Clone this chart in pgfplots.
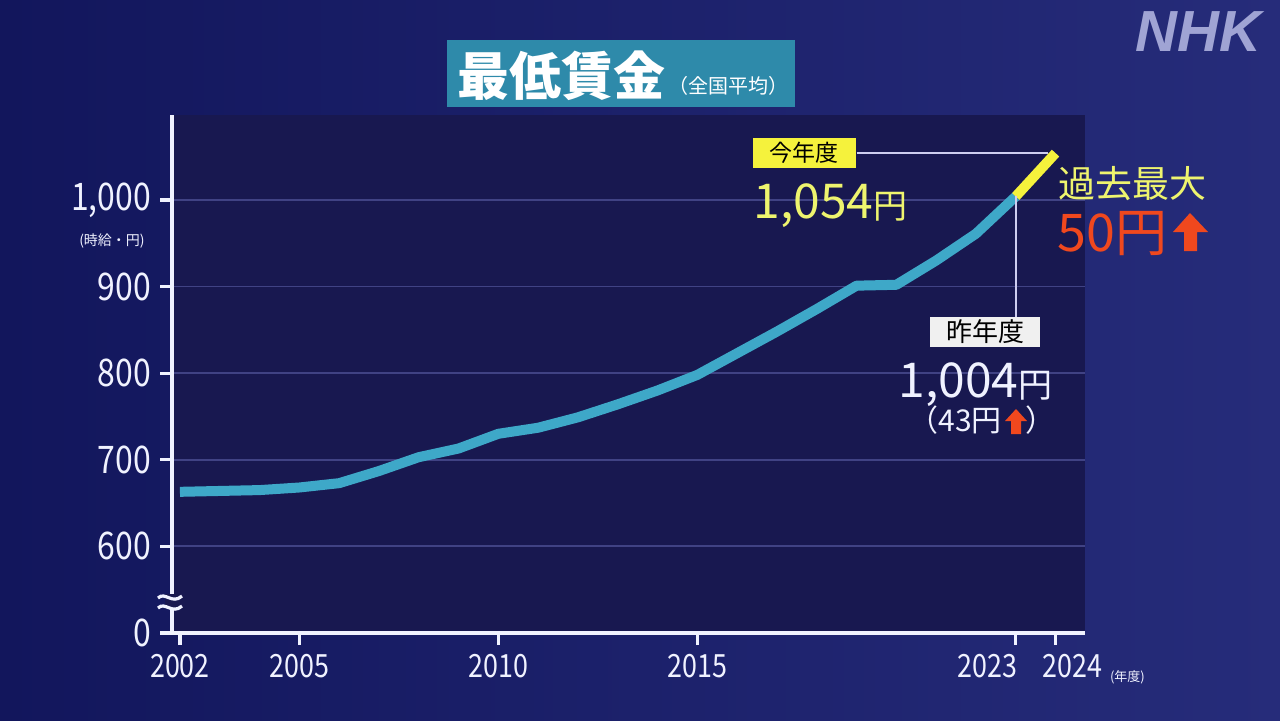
\documentclass[border=0pt]{standalone}
\usepackage{fontspec}
\setmainfont{Noto Sans CJK JP}
\newfontfamily\numfont[FakeStretch=0.84]{Noto Sans CJK JP}
\newfontfamily\nhkfont{Liberation Sans}
\usepackage{pgfplots}
\pgfplotsset{compat=1.18}
\definecolor{bgL}{RGB}{18,22,92}
\definecolor{bgR}{RGB}{38,44,122}
\definecolor{panel}{RGB}{24,24,80}
\definecolor{gridc}{RGB}{64,66,132}
\definecolor{linec}{RGB}{62,168,200}
\definecolor{yel}{RGB}{245,242,60}
\definecolor{yeltext}{RGB}{238,244,110}
\definecolor{titlebox}{RGB}{46,138,170}
\definecolor{redc}{RGB}{240,72,30}
\definecolor{lead}{RGB}{205,205,240}
\definecolor{nhk}{RGB}{160,164,212}
\definecolor{txt}{RGB}{240,242,255}
\begin{document}
\begin{tikzpicture}
\shade[left color=bgL,right color=bgR] (0pt,0pt) rectangle (640pt,-360pt);
\begin{axis}[
  at={(86pt,-316.5pt)}, anchor=south west, scale only axis,
  width=456.5pt, height=259pt,
  xmin=2001.8, xmax=2024.74, ymin=500, ymax=1098,
  axis x line=bottom, axis y line=left,
  axis line style={txt, line width=2pt, -},
  axis background/.style={fill=panel},
  clip=false,
  xtick={2002,2005,2010,2015,2023,2024},
  xticklabels={2002,2005,2010,2015,{2023\rule{28pt}{0pt}},{\rule{17pt}{0pt}2024}},
  ytick={500,600,700,800,900,1000},
  yticklabels={0,600,700,800,900,{1,000}},
  tick align=outside, major tick length=6pt,
  tick style={txt, line width=1.6pt},
  ymajorgrids, grid style={gridc, line width=0.9pt},
  xticklabel style={font=\numfont\fontsize{16}{16}\selectfont, text=txt, yshift=-1pt},
  yticklabel style={font=\numfont\fontsize{19}{19}\selectfont, text=txt, xshift=-1pt},
  /pgf/number format/assume math mode=true,
]
\addplot[linec, line width=5pt, line join=round] coordinates {
(2002,663)(2003,664)(2004,665)(2005,668)(2006,673)(2007,687)(2008,703)
(2009,713)(2010,730)(2011,737)(2012,749)(2013,764)(2014,780)(2015,798)
(2016,823)(2017,848)(2018,874)(2019,901)(2020,902)(2021,930)(2022,961)
(2023,1004)};
\addplot[yel, line width=5pt] coordinates {(2023,1004)(2024,1054)};
\draw[lead, line width=0.8pt] (axis cs:2023,1004) -- (axis cs:2023,864);
\draw[lead, line width=0.8pt] (axis cs:2019.0,1054) -- (axis cs:2023.8,1054);
\end{axis}
\begin{scope}[x=0.5pt,y=-0.5pt]
% axis break
\fill[panel] (165,594) rectangle (180,608);
\draw[txt, line width=1.6pt] (158,598) .. controls (165,591) and (172,605) .. (182,596);
\draw[txt, line width=1.6pt] (158,608) .. controls (165,601) and (172,615) .. (182,606);
% unit labels
\node[text=txt, font=\fontsize{7}{7}\selectfont] at (112,241) {(時給・円)};
\node[text=txt, font=\fontsize{6.5}{6.5}\selectfont, anchor=west] at (1103,677) {(年度)};
% title
\fill[titlebox] (447,40) rectangle (795,107);
\node[text=white, font=\fontsize{26}{26}\selectfont\bfseries, anchor=west, inner sep=0pt] at (457,76) {最低賃金};
\node[text=white, font=\fontsize{10}{10}\selectfont, anchor=west, inner sep=0pt] at (668,86) {（全国平均）};
% this year
\node[fill=yel, text=black, font=\fontsize{11.5}{11.5}\selectfont, minimum width=51.5pt, minimum height=15pt, inner sep=0pt] at (804,153) {今年度};
\node[text=yeltext, anchor=base west, inner sep=0pt] at (753,218) {\fontsize{24}{24}\selectfont 1,054\fontsize{17}{17}\selectfont 円};
\node[text=yeltext, font=\fontsize{18.5}{18.5}\selectfont, anchor=west, inner sep=0pt] at (1058,184) {過去最大};
\node[text=redc, anchor=base west, inner sep=0pt] at (1057,251) {\fontsize{26}{26}\selectfont 50円};
\fill[redc] (1190,213) -- (1208,232) -- (1197,232) -- (1197,251) -- (1184,251) -- (1184,232) -- (1173,232) -- cycle;
% last year
\node[fill=white!94!black, text=black, font=\fontsize{13}{13}\selectfont, minimum width=55pt, minimum height=15pt, inner sep=0pt] at (985,332) {昨年度};
\node[text=txt, anchor=base west, inner sep=0pt] at (898,397) {\fontsize{24}{24}\selectfont 1,004\fontsize{17}{17}\selectfont 円};
\node[text=txt, anchor=base west, inner sep=0pt] at (908,431) {\fontsize{15}{15}\selectfont （43円\hspace{12pt}）};
\fill[redc] (1016,409) -- (1027,421) -- (1021,421) -- (1021,434) -- (1011,434) -- (1011,421) -- (1005,421) -- cycle;
% logo
\node[text=nhk, font=\nhkfont\fontsize{29}{29}\selectfont\bfseries\itshape, anchor=east, inner sep=0pt] at (1262,32) {NHK};
\end{scope}
\end{tikzpicture}
\end{document}
